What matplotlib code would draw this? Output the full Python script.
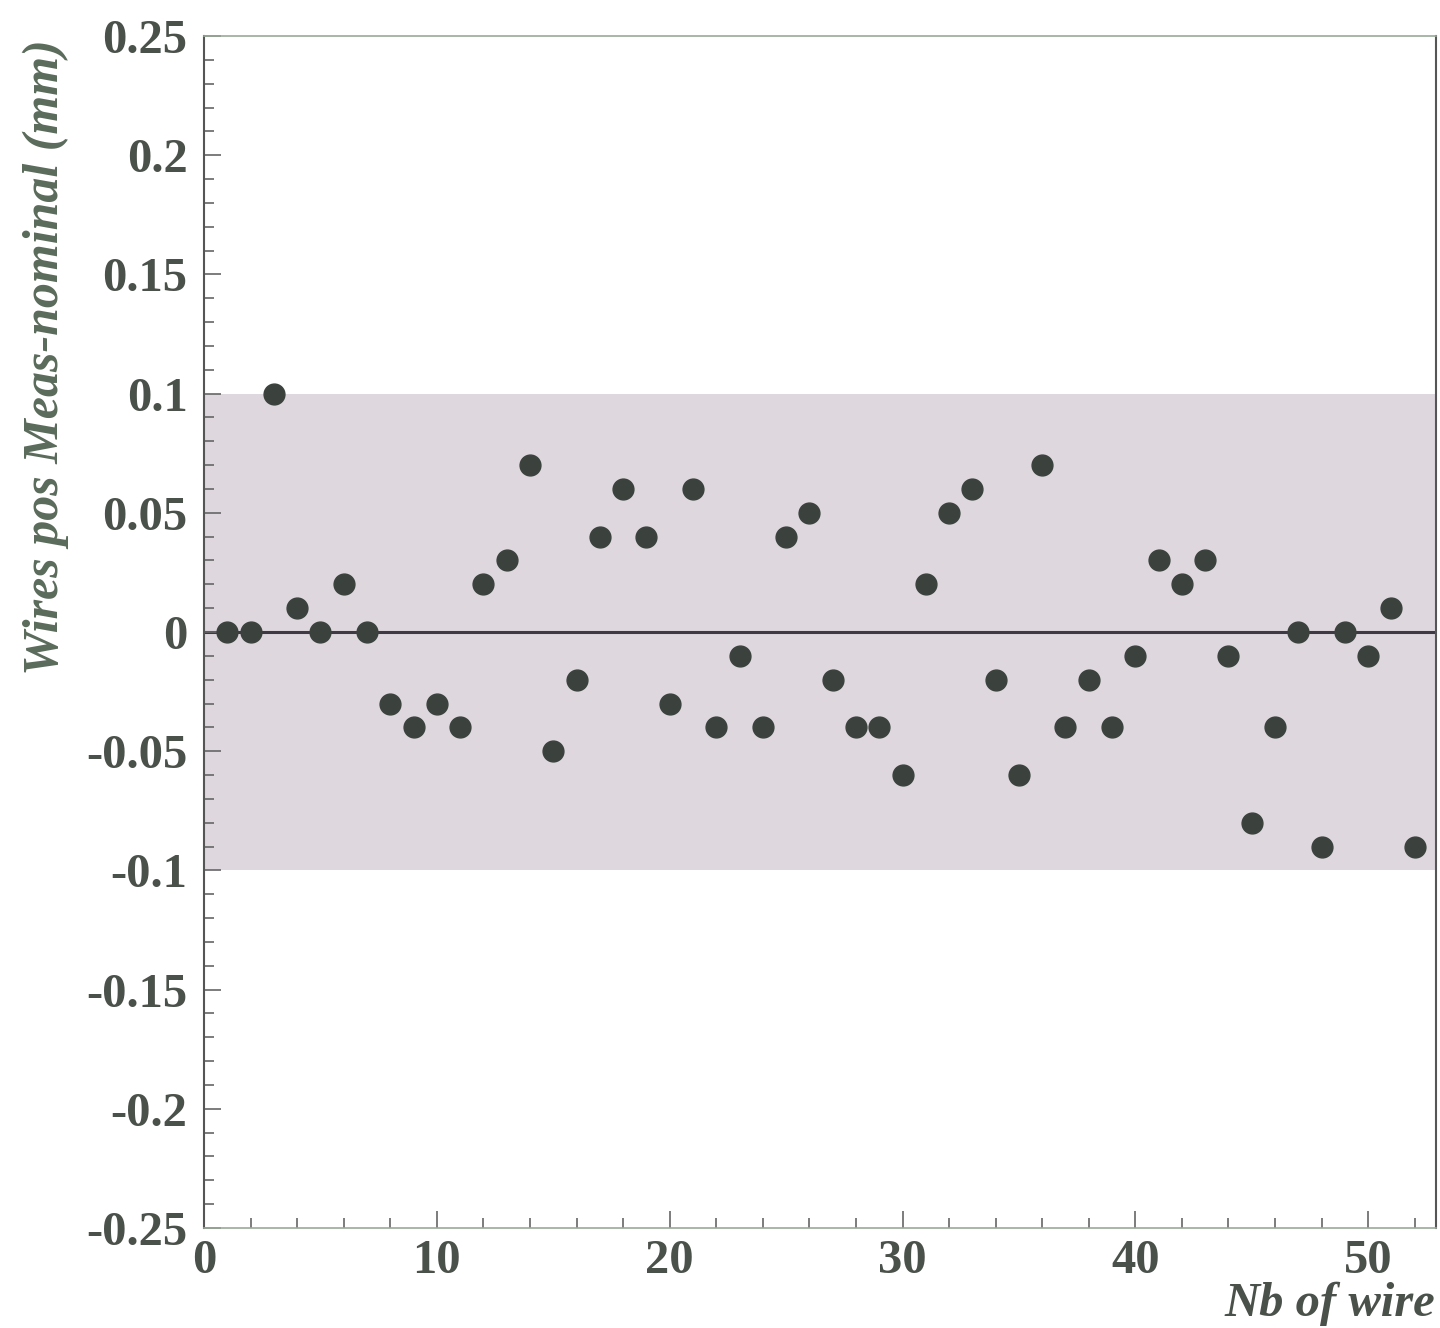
import matplotlib
matplotlib.use("Agg")
import matplotlib.pyplot as plt
from matplotlib.ticker import MultipleLocator

# wire number and measured - nominal position (mm)
wires = list(range(1, 53))
deltas = [0.00, 0.00, 0.10, 0.01, 0.00, 0.02, 0.00, -0.03, -0.04, -0.03,
          -0.04, 0.02, 0.03, 0.07, -0.05, -0.02, 0.04, 0.06, 0.04, -0.03,
          0.06, -0.04, -0.01, -0.04, 0.04, 0.05, -0.02, -0.04, -0.04, -0.06,
          0.02, 0.05, 0.06, -0.02, -0.06, 0.07, -0.04, -0.02, -0.04, -0.01,
          0.03, 0.02, 0.03, -0.01, -0.08, -0.04, 0.00, -0.09, 0.00, -0.01,
          0.01, -0.09]
tolerance = 0.1

text_col = '#4a504a'
label_col = '#5b6b5b'

fig = plt.figure(figsize=(14.4, 13.28), dpi=100)
ax = fig.add_axes([0.1417, 0.0753, 0.8553, 0.8976])

# tolerance band
ax.axhspan(-tolerance, tolerance, color='#ded8de', lw=0, zorder=0)
ax.axhline(0, color='#3e3a44', lw=2.2, zorder=1)
ax.plot(wires, deltas, 'o', color='#3b423d', markersize=15, zorder=3)

ax.set_xlim(0, 52.9)
ax.set_ylim(-0.25, 0.25)

ax.xaxis.set_major_locator(MultipleLocator(10))
ax.xaxis.set_minor_locator(MultipleLocator(2))
ax.yaxis.set_major_locator(MultipleLocator(0.05))
ax.yaxis.set_minor_locator(MultipleLocator(0.01))
ax.set_yticks([-0.25, -0.2, -0.15, -0.1, -0.05, 0, 0.05, 0.1, 0.15, 0.2, 0.25])
ax.set_yticklabels(['-0.25', '-0.2', '-0.15', '-0.1', '-0.05', '0',
                    '0.05', '0.1', '0.15', '0.2', '0.25'])

ax.tick_params(which='both', direction='in', color='#666666', width=1.2,
               top=False, right=False)
ax.tick_params(which='major', length=12)
ax.tick_params(which='minor', length=7)
ax.tick_params(axis='both', which='major', labelsize=35, labelcolor=text_col)
ax.tick_params(axis='y', which='major', pad=12)
ax.tick_params(axis='x', which='major', pad=8)
for lbl in ax.get_xticklabels() + ax.get_yticklabels():
    lbl.set_fontfamily('Liberation Serif')
    lbl.set_fontweight('bold')

for side in ['left', 'right']:
    ax.spines[side].set_color('#555555')
    ax.spines[side].set_linewidth(1.5)
ax.spines['top'].set_color('#99aa99')
ax.spines['top'].set_linewidth(1.2)
ax.spines['bottom'].set_color('#99aa99')
ax.spines['bottom'].set_linewidth(1.2)

ax.set_ylabel('Wires pos Meas-nominal (mm)', fontsize=36, fontstyle='italic',
              fontweight='bold', family='Liberation Serif', color=label_col)
ax.yaxis.set_label_coords(-0.11, 0.731)
ax.set_xlabel('Nb of wire', fontsize=35, fontstyle='italic', fontweight='bold',
              family='Liberation Serif', color=text_col, loc='right')
ax.xaxis.set_label_coords(1.0, -0.045)

fig.savefig('out.png', dpi=100)
